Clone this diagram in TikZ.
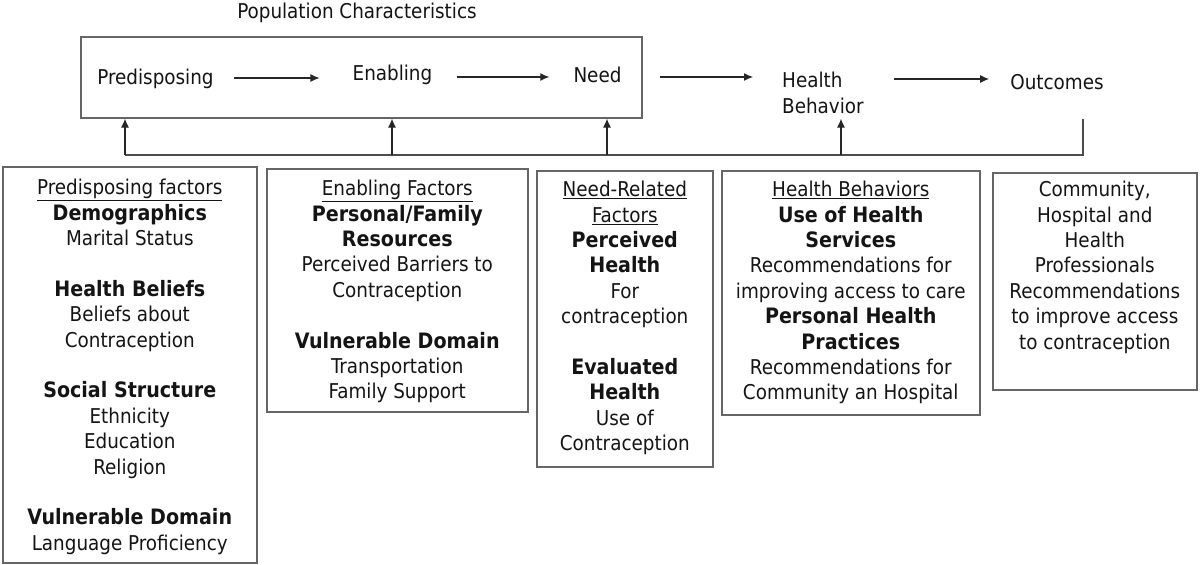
\documentclass[tikz,border=0pt]{standalone}
\usepackage{fontspec}
\setmainfont{DejaVu Sans Condensed}[BoldFeatures={Scale=1.04}]
\usetikzlibrary{arrows.meta}
\begin{document}
\begin{tikzpicture}[x=1pt,y=-1pt,
  lbl/.style={font=\fontsize{20.4}{25.4}\selectfont, inner sep=0pt, align=center, text=black!92},
  frame/.style={draw=black!60, line width=1.6pt, inner sep=0pt, anchor=north west},
  fline/.style={draw=black!70, line width=1.2pt},
  arr/.style={draw=black!85, line width=1.1pt, -{Latex[length=9pt,width=8pt]}}]
\useasboundingbox (0,0) rectangle (1200,565);
% top row
\node[lbl] (pc) at (357,13) {Population Characteristics};
\node[frame, minimum width=561pt, minimum height=81pt] (top) at (80,36) {};
\node[lbl] (pre) at (155.5,79) {Predisposing};
\node[lbl] (enab) at (392.5,75) {Enabling};
\node[lbl] (need) at (597.5,75) {Need};
\node[lbl, align=left, anchor=west] (hb) at (782,93) {Health\\Behavior};
\node[lbl] (out) at (1057,82) {Outcomes};
\draw[arr, shorten <=20pt, shorten >=33pt] ([yshift=1pt]pre.east) -- ([yshift=1pt]pre.east -| enab.west);
\draw[arr, shorten <=24pt, shorten >=24pt] ([yshift=-2pt]enab.east) -- ([yshift=-2pt]enab.east -| need.west);
\draw[arr, shorten <=38pt, shorten >=29pt] ([yshift=-2pt]need.east) -- ([yshift=-2pt]need.east -| hb.west);
\coordinate (hbA) at (862,79);
\draw[arr, shorten <=32pt, shorten >=21pt] (hbA) -- (hbA -| out.west);
% feedback
\coordinate (f1) at (125,155);
\coordinate (f2) at (392,155);
\coordinate (f3) at (607,155);
\coordinate (f4) at (841,155);
\coordinate (f5) at (1083,155);
\draw[fline] (f5 |- top.south) -- (f5) -- (f1);
\draw[arr] (f1) -- (f1 |- top.south);
\draw[arr] (f2) -- (f2 |- top.south);
\draw[arr] (f3) -- (f3 |- top.south);
\draw[arr] (f4) -- (f4 |- top.south);
% boxes
\node[frame, minimum width=254pt, minimum height=396pt] (b1) at (2,166) {};
\node[frame, minimum width=261pt, minimum height=243pt] (b2) at (266,168) {};
\node[frame, minimum width=176pt, minimum height=296pt] (b3) at (536,170) {};
\node[frame, minimum width=258pt, minimum height=244pt] (b4) at (721,170) {};
\node[frame, minimum width=204pt, minimum height=217pt] (b5) at (992,172) {};
\node[lbl, anchor=north] (t1) at ([yshift=-13pt]b1.north) {\underline{Predisposing factors}\\ \textbf{Demographics}\\ Marital Status\\[25.4pt] \textbf{Health Beliefs}\\ Beliefs about\\ Contraception\\[25.4pt] \textbf{Social Structure}\\ Ethnicity\\ Education\\ Religion\\[25.4pt] \textbf{Vulnerable Domain}\\ Language Proficiency};
\node[lbl, anchor=north] (t2) at ([yshift=-12pt]b2.north) {\underline{Enabling Factors}\\ \textbf{Personal/Family}\\ \textbf{Resources}\\ Perceived Barriers to\\ Contraception\\[25.4pt] \textbf{Vulnerable Domain}\\ Transportation\\ Family Support};
\node[lbl, anchor=north] (t3) at ([yshift=-11pt]b3.north) {\underline{Need-Related}\\ \underline{Factors}\\ \textbf{Perceived}\\ \textbf{Health}\\ For\\ contraception\\[25.4pt] \textbf{Evaluated}\\ \textbf{Health}\\ Use of\\ Contraception};
\node[lbl, anchor=north] (t4) at ([yshift=-11pt]b4.north) {\underline{Health Behaviors}\\ \textbf{Use of Health}\\ \textbf{Services}\\ Recommendations for\\ improving access to care\\ \textbf{Personal Health}\\ \textbf{Practices}\\ Recommendations for\\ Community an Hospital};
\node[lbl, anchor=north] (t5) at ([yshift=-9pt]b5.north) {Community,\\ Hospital and\\ Health\\ Professionals\\ Recommendations\\ to improve access\\ to contraception};
\end{tikzpicture}
\end{document}
